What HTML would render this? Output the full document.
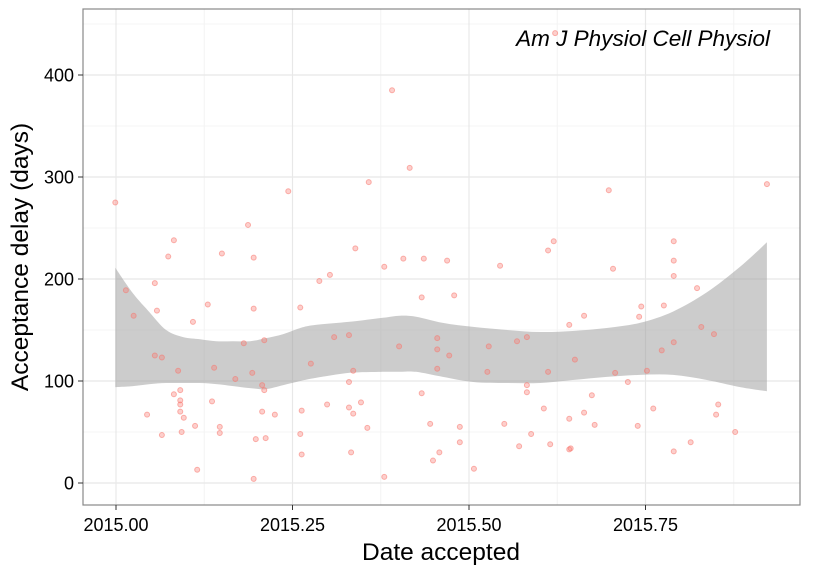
<!DOCTYPE html>
<html><head><meta charset="utf-8"><style>
body{margin:0;background:#fff;}
svg{display:block;font-family:"Liberation Sans",sans-serif;}
</style></head><body>
<svg id="chart" width="825" height="570" xmlns="http://www.w3.org/2000/svg">
<rect x="0" y="0" width="825" height="570" fill="#fff"/>
<g id="grid"></g>
<g id="ribbon"></g>
<g id="points"></g>
<rect x="83" y="9" width="717" height="496" fill="none" stroke="#888" stroke-width="1.2"/>
<g id="axes"></g>
<text x="770" y="46" text-anchor="end" font-size="22.5" font-style="italic" fill="#000">Am J Physiol Cell Physiol</text>
<text x="441" y="560" text-anchor="middle" font-size="24.5" fill="#000">Date accepted</text>
<text transform="translate(28,257) rotate(-90)" text-anchor="middle" font-size="24.5" fill="#000">Acceptance delay (days)</text>
</svg>
<script>
const dates=[2014.999,2015.014,2015.025,2015.055,2015.058,2015.055,2015.065,2015.088,2015.044,2015.065,2015.082,2015.074,2015.091,2015.082,2015.091,2015.091,2015.091,2015.096,2015.093,2015.112,2015.115,2015.109,2015.130,2015.139,2015.136,2015.147,2015.147,2015.150,2015.169,2015.181,2015.187,2015.195,2015.195,2015.193,2015.207,2015.210,2015.210,2015.207,2015.198,2015.212,2015.225,2015.195,2015.244,2015.261,2015.276,2015.263,2015.261,2015.263,2015.288,2015.303,2015.299,2015.309,2015.330,2015.336,2015.330,2015.330,2015.336,2015.347,2015.356,2015.333,2015.339,2015.358,2015.380,2015.380,2015.401,2015.407,2015.416,2015.433,2015.436,2015.433,2015.445,2015.449,2015.458,2015.455,2015.455,2015.455,2015.391,2015.469,2015.479,2015.472,2015.487,2015.487,2015.507,2015.528,2015.526,2015.544,2015.550,2015.568,2015.582,2015.582,2015.582,2015.571,2015.588,2015.606,2015.612,2015.620,2015.612,2015.615,2015.642,2015.642,2015.642,2015.644,2015.650,2015.663,2015.663,2015.674,2015.678,2015.698,2015.704,2015.707,2015.725,2015.739,2015.741,2015.744,2015.752,2015.761,2015.773,2015.776,2015.790,2015.790,2015.790,2015.790,2015.790,2015.814,2015.823,2015.829,2015.847,2015.853,2015.850,2015.877,2015.922,2015.622];
const delays=[275,189,164,196,169,125,123,110,67,47,238,222,91,87,81,77,70,64,50,56,13,158,175,113,80,55,49,225,102,137,253,221,171,108,96,91,140,70,43,44,67,4,286,172,117,71,48,28,198,204,77,143,145,110,99,74,68,79,54,30,230,295,212,6,134,220,309,182,220,88,58,22,30,142,131,112,385,218,184,125,55,40,14,134,109,213,58,139,143,96,89,36,48,73,228,237,109,38,155,63,33,34,121,164,69,86,57,287,210,108,99,56,163,173,110,73,130,174,237,218,203,138,31,40,191,153,146,77,67,50,293,441];
const ribbonX=[2014.999,2015.024,2015.048,2015.071,2015.095,2015.119,2015.142,2015.166,2015.190,2015.212,2015.237,2015.261,2015.283,2015.331,2015.378,2015.402,2015.425,2015.463,2015.506,2015.554,2015.601,2015.647,2015.695,2015.742,2015.789,2015.837,2015.884,2015.922];
const ribbonUpper=[211,186,167,150,143,141,139,139,139,142,146,152,155,158,162,164,163,157,153,150,148,149,152,157,168,187,212,236];
const ribbonLower=[94,95,97,98,98,98,97,95,93,92,96,100,103,108,109,109,109,104,99,98,98,101,104,106,106,101,94,90];
const xTicks=[2015.00,2015.25,2015.50,2015.75];
const xTickLabels=["2015.00","2015.25","2015.50","2015.75"];
const yTicks=[0,100,200,300,400];
const yTickLabels=["0","100","200","300","400"];

const NS="http://www.w3.org/2000/svg";
const X=d=>116+(d-2015)*706;
const Y=v=>483-v*1.02;
function mk(tag,attrs,parent){const e=document.createElementNS(NS,tag);for(const k in attrs)e.setAttribute(k,attrs[k]);parent.appendChild(e);return e;}
const grid=document.getElementById('grid'),axes=document.getElementById('axes');
for(let i=0;i<xTicks.length;i++){const m=xTicks[i]+0.125;if(X(m)<800){const l=mk('line',{x1:X(m),x2:X(m),y1:9,y2:505,stroke:'#f4f4f4','stroke-width':1},grid);}}
for(let i=0;i<yTicks.length;i++){const m=yTicks[i]+50;if(Y(m)>9){const l=mk('line',{x1:83,x2:800,y1:Y(m),y2:Y(m),stroke:'#f4f4f4','stroke-width':1},grid);}}
xTicks.forEach((t,i)=>{
 const l=mk('line',{x1:X(t),x2:X(t),y1:9,y2:505,stroke:'#e8e8e8','stroke-width':1.2},grid);
 
 
 const tk=mk('line',{x1:X(t),x2:X(t),y1:505,y2:510,stroke:'#333','stroke-width':1},axes);
 
 
 const tx=mk('text',{x:X(t),y:531,'text-anchor':'middle','font-size':18,fill:'#000'},axes);
 tx.textContent=xTickLabels[i];
 
 
});
yTicks.forEach((t,i)=>{
 const l=mk('line',{x1:83,x2:800,y1:Y(t),y2:Y(t),stroke:'#e8e8e8','stroke-width':1.2},grid);
 
 
 const tk=mk('line',{x1:78,x2:83,y1:Y(t),y2:Y(t),stroke:'#333','stroke-width':1},axes);
 
 
 const tx=mk('text',{x:74,y:Y(t)+6.5,'text-anchor':'end','font-size':18,fill:'#000'},axes);
 tx.textContent=yTickLabels[i];
 
 
});
function smooth(pts,start){
 let s=start?('M'+pts[0][0].toFixed(1)+','+pts[0][1].toFixed(1)):('L'+pts[0][0].toFixed(1)+','+pts[0][1].toFixed(1));
 for(let i=0;i<pts.length-1;i++){
  const p0=pts[Math.max(0,i-1)],p1=pts[i],p2=pts[i+1],p3=pts[Math.min(pts.length-1,i+2)];
  const c1=[p1[0]+(p2[0]-p0[0])/6,p1[1]+(p2[1]-p0[1])/6];
  const c2=[p2[0]-(p3[0]-p1[0])/6,p2[1]-(p3[1]-p1[1])/6];
  s+='C'+c1[0].toFixed(1)+','+c1[1].toFixed(1)+' '+c2[0].toFixed(1)+','+c2[1].toFixed(1)+' '+p2[0].toFixed(1)+','+p2[1].toFixed(1);
 }
 return s;
}
const up=ribbonX.map((x,i)=>[X(x),Y(ribbonUpper[i])]);
const lo=ribbonX.map((x,i)=>[X(x),Y(ribbonLower[i])]).reverse();
const d=smooth(up,true)+smooth(lo,false)+'Z';
const rb=mk('path',{d:d,fill:'#999','fill-opacity':0.5},document.getElementById('ribbon'));


const pg=document.getElementById('points');
dates.forEach((dt,i)=>{
 const c=mk('circle',{cx:X(dt),cy:Y(delays[i]),r:2.5,fill:'#f8766d','fill-opacity':0.35,stroke:'#f8766d','stroke-opacity':0.55,'stroke-width':1},pg);
 
 
});
</script>
</body></html>
